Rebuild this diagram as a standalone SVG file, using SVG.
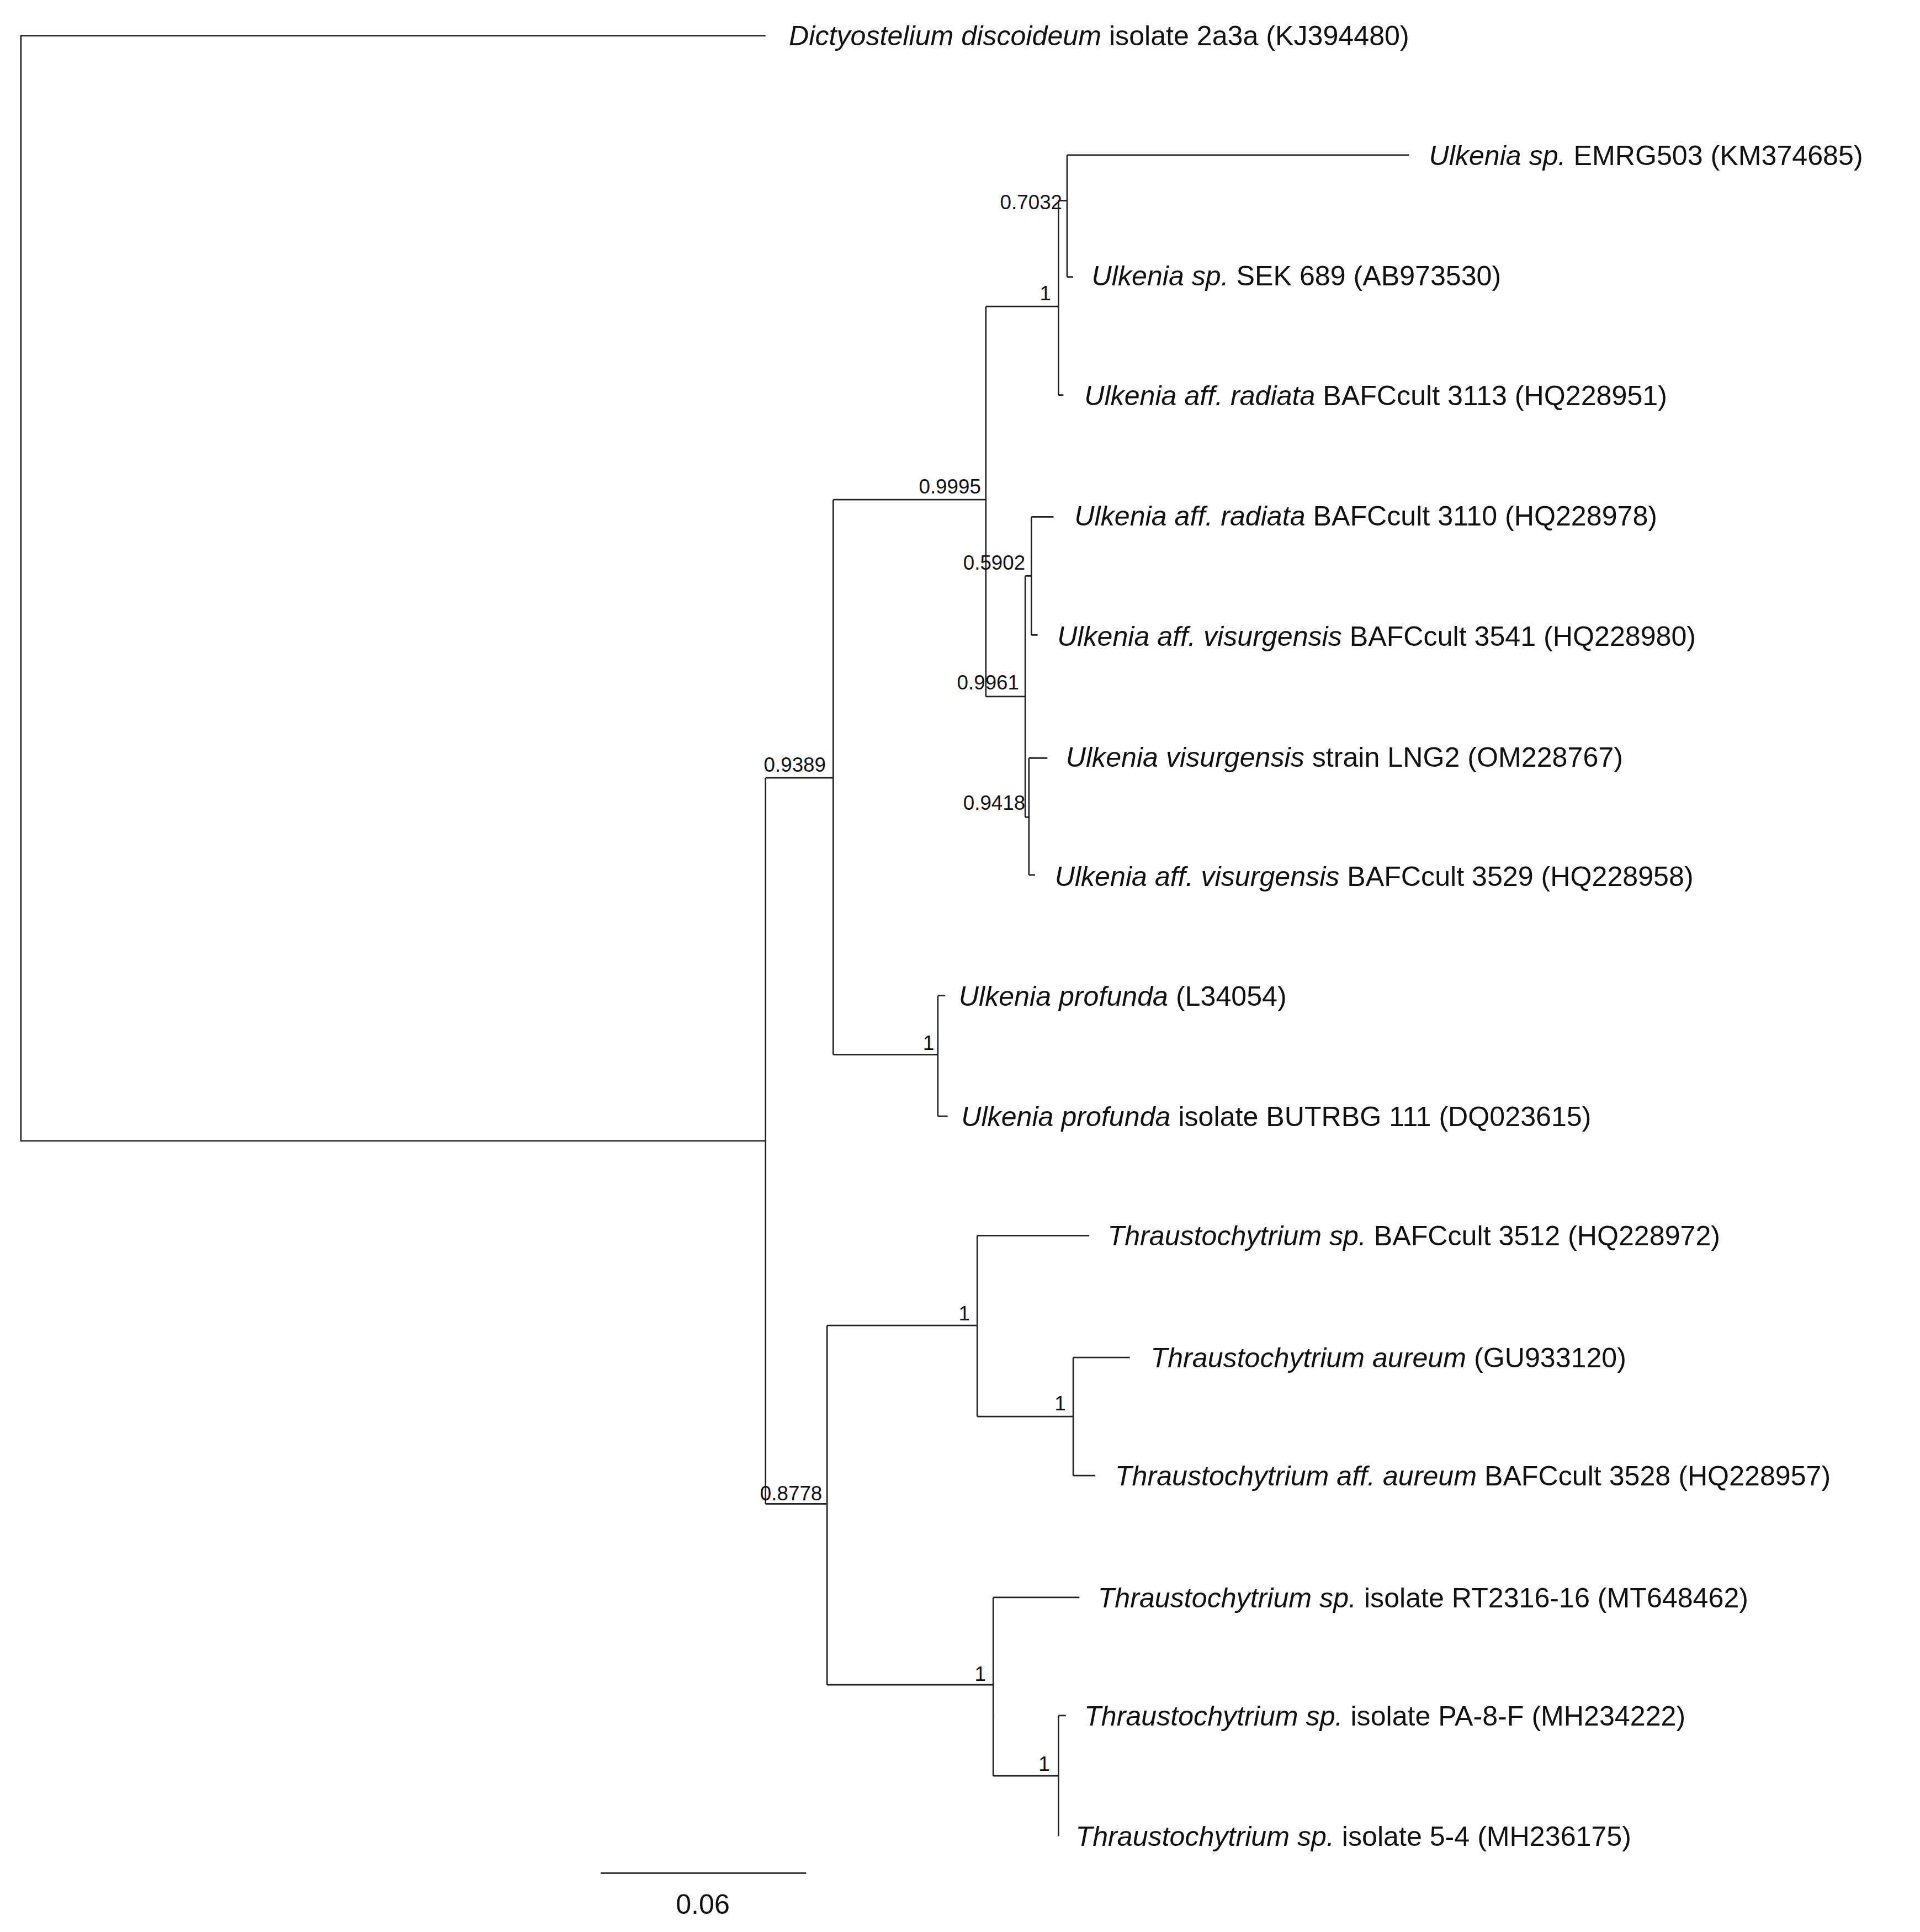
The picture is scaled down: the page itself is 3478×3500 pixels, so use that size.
<svg xmlns="http://www.w3.org/2000/svg" width="3478" height="3500" viewBox="0 0 3478 3500">
<style>
.b{fill:none;stroke:#222;stroke-width:1.2}
.t{font-family:"Liberation Sans",Arial,sans-serif;font-size:22.5px;fill:#111}
.s{font-family:"Liberation Sans",Arial,sans-serif;font-size:16.5px;fill:#111;text-anchor:end}
</style>
<rect width="3478" height="3500" fill="#fff"/>
<g transform="scale(2.2295)">
<g id="connectors">
<path class="b" d="M622,29H17V927H622M622,632V1222M622,632H677M622,1222H672
M677,406V857M677,406H801M677,857H762
M801,249V566M801,249H860M801,566H833
M860,163V321M860,163H867M860,321H864
M867,126V225M867,126H1145M867,225H872
M833,468V664M833,468H838M833,664H836
M838,420V516M838,420H856M838,516H843
M836,616V711M836,616H851M836,711H841
M762,809V907M762,809H768M762,907H770
M672,1077V1369M672,1077H794M672,1369H807
M794,1004V1151M794,1004H885M794,1151H872
M872,1103V1199M872,1103H918M872,1199H890
M807,1298V1443M807,1298H877M807,1443H860
M860,1394V1492M860,1394H866M860,1492H860
M488,1522H655"/>
</g>
<g id="leaves">
<text id="n1" class="t" x="641" y="37"><tspan font-style="italic">Dictyostelium discoideum</tspan> isolate 2a3a (KJ394480)</text>
<text id="n2" class="t" x="1161" y="134"><tspan font-style="italic">Ulkenia sp.</tspan> EMRG503 (KM374685)</text>
<text id="n3" class="t" x="887" y="232"><tspan font-style="italic">Ulkenia sp.</tspan> SEK 689 (AB973530)</text>
<text id="n4" class="t" x="881" y="329"><tspan font-style="italic">Ulkenia aff. radiata</tspan> BAFCcult 3113 (HQ228951)</text>
<text id="n5" class="t" x="873" y="427"><tspan font-style="italic">Ulkenia aff. radiata</tspan> BAFCcult 3110 (HQ228978)</text>
<text id="n6" class="t" x="859" y="525"><tspan font-style="italic">Ulkenia aff. visurgensis</tspan> BAFCcult 3541 (HQ228980)</text>
<text id="n7" class="t" x="866" y="623"><tspan font-style="italic">Ulkenia visurgensis</tspan> strain LNG2 (OM228767)</text>
<text id="n8" class="t" x="857" y="720"><tspan font-style="italic">Ulkenia aff. visurgensis</tspan> BAFCcult 3529 (HQ228958)</text>
<text id="n9" class="t" x="779" y="817"><tspan font-style="italic">Ulkenia profunda</tspan> (L34054)</text>
<text id="n10" class="t" x="781" y="915"><tspan font-style="italic">Ulkenia profunda</tspan> isolate BUTRBG 111 (DQ023615)</text>
<text id="n11" class="t" x="900" y="1012"><tspan font-style="italic">Thraustochytrium sp.</tspan> BAFCcult 3512 (HQ228972)</text>
<text id="n12" class="t" x="935" y="1111"><tspan font-style="italic">Thraustochytrium aureum</tspan> (GU933120)</text>
<text id="n13" class="t" x="906" y="1207"><tspan font-style="italic">Thraustochytrium aff. aureum</tspan> BAFCcult 3528 (HQ228957)</text>
<text id="n14" class="t" x="892" y="1306"><tspan font-style="italic">Thraustochytrium sp.</tspan> isolate RT2316-16 (MT648462)</text>
<text id="n15" class="t" x="881" y="1402"><tspan font-style="italic">Thraustochytrium sp.</tspan> isolate PA-8-F (MH234222)</text>
<text id="n16" class="t" x="874" y="1500"><tspan font-style="italic">Thraustochytrium sp.</tspan> isolate 5-4 (MH236175)</text>
</g>
<g id="supports">
<text class="s" x="863" y="170">0.7032</text>
<text class="s" x="854" y="244">1</text>
<text class="s" x="797" y="401">0.9995</text>
<text class="s" x="833" y="463">0.5902</text>
<text class="s" x="828" y="560">0.9961</text>
<text class="s" x="833" y="658">0.9418</text>
<text class="s" x="671" y="627">0.9389</text>
<text class="s" x="759" y="853">1</text>
<text class="s" x="788" y="1073">1</text>
<text class="s" x="866" y="1146">1</text>
<text class="s" x="668" y="1219">0.8778</text>
<text class="s" x="801" y="1366">1</text>
<text class="s" x="853" y="1439">1</text>
</g>
<g id="scale">
<text class="t" x="571" y="1555" text-anchor="middle" font-size="20">0.06</text>
</g>
</g>
</svg>
